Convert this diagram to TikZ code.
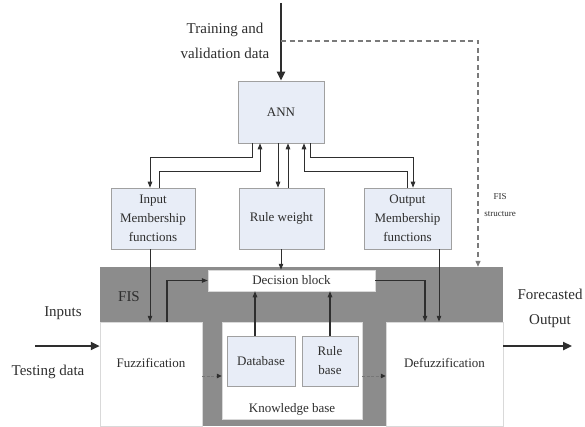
\documentclass[tikz,border=0pt]{standalone}
\usepackage{fontspec}
\setmainfont{Liberation Serif}
\usetikzlibrary{arrows.meta}
\definecolor{boxfill}{HTML}{E8EDF7}
\definecolor{boxline}{HTML}{A0A0A0}
\definecolor{fisgray}{HTML}{8C8C8C}
\definecolor{ink}{HTML}{2E2E2E}
\definecolor{dashgray}{HTML}{7A7A7A}
\begin{document}
\begin{tikzpicture}[x=1pt,y=-1pt,
  bluebox/.style={draw=boxline,fill=boxfill,line width=0.6pt,inner sep=0pt,text=ink,
    font=\fontsize{13}{19}\selectfont,align=center},
  whitebox/.style={draw=white!85!black,fill=white,line width=0.5pt,inner sep=0pt},
  conn/.style={draw=ink,line width=0.9pt,-{Triangle[length=6pt,width=4.5pt]}},
  faint/.style={draw=ink!65,line width=0.9pt,dash pattern=on 3pt off 1.5pt,-{Triangle[length=5pt,width=4.5pt,color=ink]}},
  bigarrow/.style={draw=ink,line width=2.4pt,-{Triangle[length=9pt,width=8pt]}},
  lbl/.style={text=ink,font=\fontsize{15}{25}\selectfont,inner sep=0pt,align=center},
  boxtext/.style={text=ink,font=\fontsize{13}{19}\selectfont,inner sep=0pt,align=center}]
\useasboundingbox (0,0) rectangle (585,427);
% FIS area
\node[fill=fisgray,draw=none,inner sep=0pt,minimum width=403pt,minimum height=159pt] (fis) at (301.5,346.5) {};
\node[whitebox,minimum width=102pt,minimum height=104pt] (fuzz) at (151,374) {};
\node[whitebox,minimum width=117pt,minimum height=104pt] (defz) at (444.5,374) {};
\node[whitebox,minimum width=140pt,minimum height=97pt] (kb) at (292,370.5) {};
\node[whitebox,minimum width=167pt,minimum height=21pt,boxtext] (dec) at (291.5,280.5) {Decision block};
\node[bluebox,minimum width=68pt,minimum height=50pt] (db) at (261,361) {Database};
\node[bluebox,minimum width=56pt,minimum height=50pt] (rb) at (330,361) {Rule\\base};
\node[boxtext] (fuzzt) at (151,363) {Fuzzification};
\node[boxtext] (defzt) at (444.5,363) {Defuzzification};
\node[boxtext] (kbt) at (292,409) {Knowledge base};
\node[lbl] (fisl) at (129,297) {FIS};
% upper boxes
\node[bluebox,minimum width=86pt,minimum height=62pt] (ann) at (281,112) {ANN};
\node[bluebox,minimum width=84pt,minimum height=61pt] (imf) at (153,218.5) {Input\\Membership\\functions};
\node[bluebox,minimum width=85pt,minimum height=61pt] (rw) at (281.5,218.5) {Rule weight};
\node[bluebox,minimum width=87pt,minimum height=61pt] (omf) at (407.5,218.5) {Output\\Membership\\functions};
% labels
\node[lbl] (train) at (225,40.5) {Training and\\validation data};
\node[text=ink,font=\fontsize{9}{17}\selectfont,inner sep=0pt,align=center] (fisst) at (500,205) {FIS\\structure};
\node[lbl] (inl) at (63,313) {Inputs};
\node[lbl] (testl) at (48,372) {Testing data};
\node[lbl,align=center] (outl) at (550,308) {Forecasted\\Output};
% coordinates
\coordinate (top) at (281,3);
\coordinate (dstart) at (281,41);
\coordinate (inp) at (35,346);
\coordinate (outp) at (572,346);
% top arrows
\draw[bigarrow] (top) -- (ann.north);
\draw[draw=dashgray,line width=1.2pt,dash pattern=on 5pt off 3.5pt,-{Triangle[length=6pt,width=5pt]}] (dstart) -| (478,0 |- fis.north);
% ANN <-> boxes
\draw[conn] (252,0 |- ann.south) |- (150,157) -- (150,0 |- imf.north);
\draw[conn] (159,0 |- imf.north) |- (260,171) -- (260,0 |- ann.south);
\draw[conn] (278,0 |- ann.south) -- (278,0 |- rw.north);
\draw[conn] (288,0 |- rw.north) -- (288,0 |- ann.south);
\draw[conn] (407,0 |- omf.north) |- (304,171) -- (304,0 |- ann.south);
\draw[conn] (310,0 |- ann.south) |- (413,157) -- (413,0 |- omf.north);
% into FIS
\draw[conn] (150,0 |- imf.south) -- (150,0 |- fuzz.north);
\draw[conn] (281,0 |- rw.south) -- (281,0 |- dec.north);
\draw[conn] (439,0 |- omf.south) -- (439,0 |- defz.north);
\draw[conn,line width=1.1pt] (167,0 |- fuzz.north) |- (dec.west);
\draw[conn,line width=1.1pt] (dec.east) -| (425,0 |- defz.north);
\draw[conn,line width=1.1pt] (255,0 |- db.north) -- (255,0 |- dec.south);
\draw[conn,line width=1.1pt] (330,0 |- rb.north) -- (330,0 |- dec.south);
\draw[faint] (fuzz.east |- 0,376) -- (kb.west |- 0,376);
\draw[faint] (kb.east |- 0,376) -- (defz.west |- 0,376);
% input / output
\draw[bigarrow] (inp) -- (fuzz.west |- inp);
\draw[bigarrow] (defz.east |- outp) -- (outp);
\end{tikzpicture}
\end{document}
